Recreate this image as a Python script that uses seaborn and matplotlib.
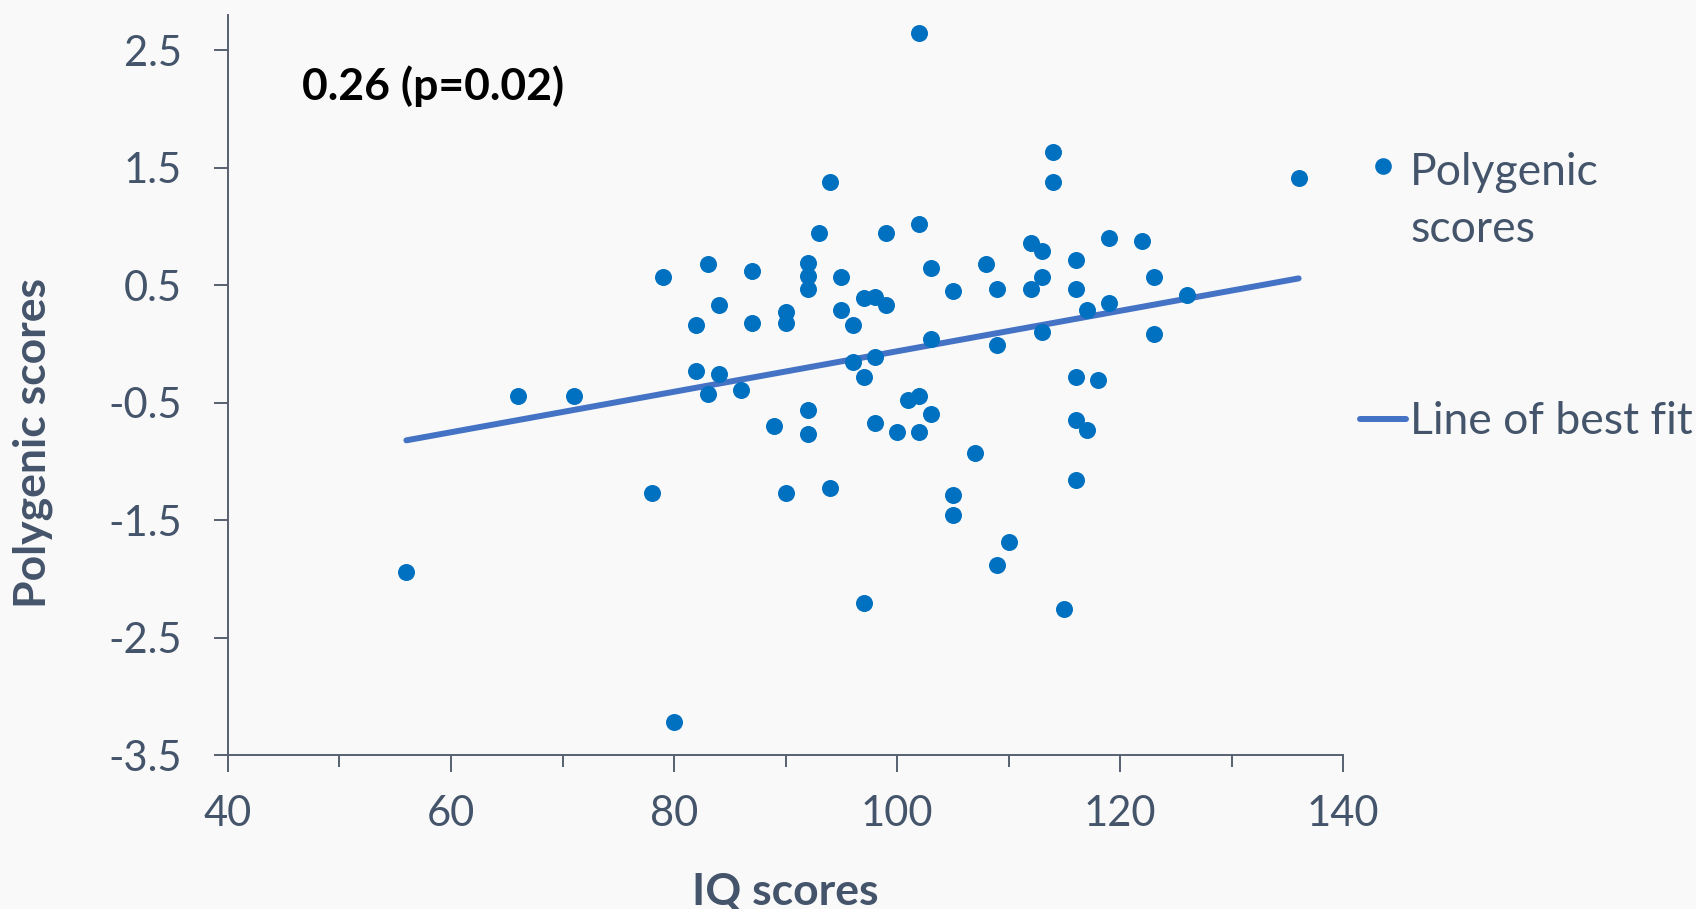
import matplotlib
matplotlib.use("Agg")
import numpy as np
import pandas as pd
import matplotlib.pyplot as plt
import seaborn as sns
from matplotlib.lines import Line2D
from matplotlib.legend_handler import HandlerLine2D
from matplotlib.ticker import MultipleLocator

# Per-participant IQ and polygenic scores
iq_scores = [56, 66, 71, 78, 79, 80, 82, 82, 83, 83,
             84, 84, 86, 87, 87, 89, 90, 90, 90, 92,
             92, 92, 92, 92, 93, 94, 94, 95, 95, 96,
             96, 97, 97, 97, 98, 98, 98, 99, 99, 100,
             101, 102, 102, 102, 102, 103, 103, 103, 105, 105,
             105, 107, 108, 109, 109, 109, 110, 112, 112, 113,
             113, 113, 114, 114, 115, 116, 116, 116, 116, 116,
             117, 117, 118, 119, 119, 122, 123, 123, 126, 136]
polygenic_scores = [-1.94, -0.44, -0.44, -1.27, 0.57, -3.22, 0.16, -0.23, 0.68, -0.43,
                    0.33, -0.26, -0.39, 0.62, 0.18, -0.70, 0.27, 0.18, -1.27, 0.69,
                    0.58, 0.47, -0.56, -0.77, 0.94, 1.38, -1.23, 0.57, 0.29, 0.16,
                    -0.15, 0.39, -0.28, -2.21, 0.40, -0.11, -0.67, 0.33, 0.94, -0.75,
                    -0.48, 2.65, 1.02, -0.44, -0.75, 0.65, 0.04, -0.60, 0.45, -1.29,
                    -1.46, -0.93, 0.68, 0.47, -0.01, -1.88, -1.69, 0.86, 0.47, 0.79,
                    0.57, 0.10, 1.63, 1.38, -2.26, 0.71, 0.47, -0.28, -0.65, -1.16,
                    0.29, -0.73, -0.31, 0.90, 0.35, 0.88, 0.57, 0.08, 0.42, 1.41]

x_ticks = [40, 60, 80, 100, 120, 140]
y_ticks = [-3.5, -2.5, -1.5, -0.5, 0.5, 1.5, 2.5]
x_label = "IQ scores"
y_label = "Polygenic scores"
annotation = "0.26 (p=0.02)"
series_labels = ["Polygenic\nscores", "Line of best fit"]

df = pd.DataFrame({"iq": iq_scores, "pgs": polygenic_scores})

sns.set_style("ticks")
plt.rcParams["font.family"] = ["Lato", "DejaVu Sans"]

BG = "#F9F9F9"
TEXT = "#44546A"
AXIS = "#56606F"
DOT = "#0070C0"
FIT = "#4472C4"


class FirstLineMarkerHandler(HandlerLine2D):
    """Marker handle lifted to sit beside the first line of a two-line label."""

    def __init__(self, lift, **kw):
        super().__init__(**kw)
        self.lift = lift

    def create_artists(self, legend, orig_handle, xdescent, ydescent,
                       width, height, fontsize, trans):
        artists = super().create_artists(legend, orig_handle, xdescent, ydescent,
                                         width, height, fontsize, trans)
        for a in artists:
            a.set_ydata(np.asarray(a.get_ydata()) + self.lift * fontsize)
        return artists


fig = plt.figure(figsize=(16.96, 9.09), dpi=100, facecolor=BG)
ax = fig.add_axes([0.1344, 0.1694, 0.6576, 0.8141])
ax.set_facecolor(BG)

sns.regplot(data=df, x="iq", y="pgs", ax=ax, scatter=False, ci=None, truncate=True,
            line_kws=dict(color=FIT, lw=4.3, solid_capstyle="round", zorder=2))
sns.scatterplot(data=df, x="iq", y="pgs", ax=ax, color=DOT, s=150,
                linewidth=0, zorder=3)

ax.set_xlim(40, 140)
ax.set_ylim(-3.5, 2.8)
ax.set_xticks(x_ticks)
ax.xaxis.set_minor_locator(MultipleLocator(10))
ax.set_yticks(y_ticks)
ax.set_yticklabels([f"{v:g}" for v in y_ticks])

for side in ("top", "right"):
    ax.spines[side].set_visible(False)
for side in ("left", "bottom"):
    ax.spines[side].set_color(AXIS)
    ax.spines[side].set_linewidth(1.4)

ax.tick_params(axis="both", which="both", colors=AXIS, width=1.4, direction="out")
ax.tick_params(axis="y", which="major", length=10, pad=23, labelsize=30, labelcolor=TEXT)
ax.tick_params(axis="x", which="major", length=12, pad=17, labelsize=30, labelcolor=TEXT)
ax.tick_params(axis="x", which="minor", length=8.5)

ax.set_xlabel(x_label, fontsize=32, fontweight="bold", color=TEXT)
ax.xaxis.set_label_coords(0.5, -0.158)
ax.set_ylabel(y_label, fontsize=32, fontweight="bold", color=TEXT, va="center")
ax.yaxis.set_label_coords(-0.175, 0.421)

ax.text(0.0664, 0.9034, annotation, transform=ax.transAxes, fontsize=32,
        fontweight="bold", color="black", ha="left", va="center")

handles = [Line2D([], [], marker="o", ls="", color=DOT, markersize=12, markeredgewidth=0),
           Line2D([], [], color=FIT, lw=4.3, solid_capstyle="round")]
leg = fig.legend(handles, series_labels, loc="upper left",
                 bbox_to_anchor=(0.8019, 0.833), bbox_transform=fig.transFigure,
                 frameon=False, fontsize=32, labelcolor=TEXT, borderpad=0,
                 borderaxespad=0, handlelength=1.04, handletextpad=0.09,
                 labelspacing=3.4,
                 handler_map={handles[0]: FirstLineMarkerHandler(0.8, numpoints=1)})
for t in leg.get_texts():
    t.set_linespacing(1.5)

fig.savefig("out.png", dpi=100, facecolor=BG)
